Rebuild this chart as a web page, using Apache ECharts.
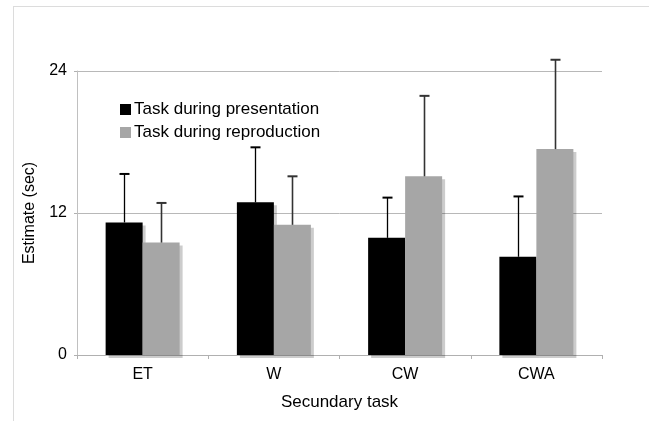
<!DOCTYPE html>
<html>
<head>
<meta charset="utf-8">
<script src="https://cdn.jsdelivr.net/npm/echarts@6/dist/echarts.min.js"></script>
<style>
html,body{margin:0;padding:0;background:#fff;}
#chart{width:649px;height:421px;}
</style>
</head>
<body>
<div id="chart"></div>
<script>
const categories = ['ET', 'W', 'CW', 'CWA'];
const presentationMean = [11.2, 12.9, 9.9, 8.3];
const presentationUpper = [15.3, 17.55, 13.3, 13.4];
const reproductionMean = [9.5, 11.0, 15.1, 17.4];
const reproductionUpper = [12.85, 15.1, 21.9, 24.95];
const yTicks = [0, 12, 24];
const seriesNames = ['Task during presentation', 'Task during reproduction'];

const FONT = '"Liberation Sans", Arial, Helvetica, sans-serif';
const BAR_W = 37;

function errorSeries(name, means, uppers, offset, color, width) {
  return {
    type: 'custom',
    name: name + ' err',
    z: 5,
    clip: false,
    silent: true,
    data: categories.map((c, i) => [i, means[i], uppers[i]]),
    renderItem: function (params, api) {
      const base = api.coord([api.value(0), api.value(1)]);
      const top = api.coord([api.value(0), api.value(2)]);
      const x = Math.round(base[0] + offset) + 0.5;
      const capHalf = 5;
      return {
        type: 'group',
        children: [
          { type: 'line', shape: { x1: x, y1: base[1], x2: x, y2: top[1] }, style: { stroke: color, lineWidth: width } },
          { type: 'line', shape: { x1: x - capHalf, y1: top[1], x2: x + capHalf, y2: top[1] }, style: { stroke: color, lineWidth: 2 } }
        ]
      };
    }
  };
}

const chart = echarts.init(document.getElementById('chart'), null, { renderer: 'canvas' });
chart.setOption({
  animation: false,
  backgroundColor: '#fff',
  textStyle: { fontFamily: FONT },
  graphic: [
    { type: 'line', shape: { x1: 13, y1: 6.5, x2: 649, y2: 6.5 }, style: { stroke: '#dcdcdc', lineWidth: 1 } },
    { type: 'line', shape: { x1: 13.5, y1: 6, x2: 13.5, y2: 421 }, style: { stroke: '#dcdcdc', lineWidth: 1 } }
  ],
  grid: { left: 77, right: 47, top: 71, bottom: 66, containLabel: false },
  legend: {
    orient: 'vertical',
    left: 120,
    top: 101,
    padding: 0,
    itemWidth: 11,
    itemHeight: 11,
    itemGap: 6,
    icon: 'rect',
    data: seriesNames,
    itemStyle: { shadowBlur: 0, shadowOffsetX: 0, shadowOffsetY: 0, shadowColor: 'transparent', borderWidth: 0 },
    textStyle: { fontSize: 17, color: '#000', fontFamily: FONT, padding: [0, 0, 0, -2] }
  },
  xAxis: {
    type: 'category',
    data: categories,
    name: 'Secundary task',
    nameLocation: 'middle',
    nameGap: 39,
    nameTextStyle: { fontSize: 17, color: '#000', fontFamily: FONT },
    axisLine: { lineStyle: { color: '#b0b0b0', width: 1 } },
    axisTick: { show: true, length: 4, lineStyle: { color: '#b0b0b0' } },
    axisLabel: { fontSize: 16, color: '#000', margin: 12, fontFamily: FONT }
  },
  yAxis: {
    type: 'value',
    min: 0,
    max: 24,
    interval: 12,
    name: 'Estimate (sec)',
    nameLocation: 'middle',
    nameGap: 39,
    nameTextStyle: { fontSize: 16, color: '#000', fontFamily: FONT },
    axisLine: { show: true, lineStyle: { color: '#c0c0c0', width: 1 } },
    axisTick: { show: true, length: 3, lineStyle: { color: '#b0b0b0' } },
    axisLabel: { fontSize: 16, color: '#000', margin: 10, fontFamily: FONT,
      formatter: v => yTicks.includes(v) ? String(v) : '' },
    splitLine: { show: true, lineStyle: { color: '#b8b8b8', width: 1 } }
  },
  series: [
    {
      type: 'bar',
      name: seriesNames[0],
      data: presentationMean,
      barWidth: BAR_W,
      barGap: '0%',
      itemStyle: { color: '#000', shadowColor: 'rgba(0,0,0,0.2)', shadowOffsetX: 3, shadowOffsetY: 3, shadowBlur: 0 }
    },
    {
      type: 'bar',
      name: seriesNames[1],
      data: reproductionMean,
      barWidth: BAR_W,
      barGap: '0%',
      itemStyle: { color: '#a6a6a6', shadowColor: 'rgba(0,0,0,0.2)', shadowOffsetX: 3, shadowOffsetY: 3, shadowBlur: 0 }
    },
    errorSeries(seriesNames[0], presentationMean, presentationUpper, -BAR_W / 2, '#000', 1.3),
    errorSeries(seriesNames[1], reproductionMean, reproductionUpper, BAR_W / 2, '#333', 1.6)
  ]
});
</script>
</body>
</html>
